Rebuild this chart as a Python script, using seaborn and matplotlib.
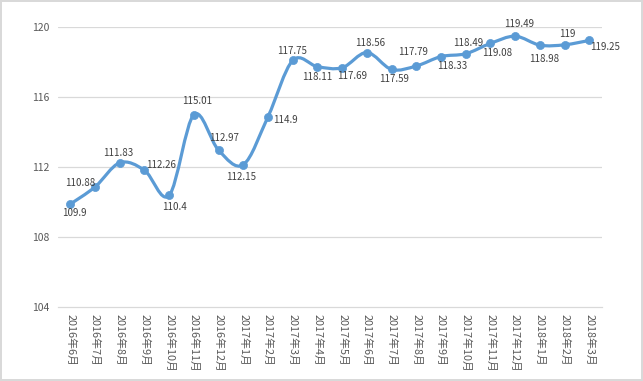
import numpy as np
import pandas as pd
import matplotlib
matplotlib.use("Agg")
import matplotlib.pyplot as plt
from matplotlib.path import Path
from matplotlib.patches import PathPatch
import seaborn as sns

# =====================================
# DATA
# =====================================

months = [
    "2016年6月", "2016年7月", "2016年8月", "2016年9月", "2016年10月",
    "2016年11月", "2016年12月", "2017年1月", "2017年2月", "2017年3月",
    "2017年4月", "2017年5月", "2017年6月", "2017年7月", "2017年8月",
    "2017年9月", "2017年10月", "2017年11月", "2017年12月", "2018年1月",
    "2018年2月", "2018年3月",
]

values = [
    109.9, 110.88, 112.26, 111.83, 110.4,
    115.01, 112.97, 112.15, 114.9, 118.11,
    117.75, 117.69, 118.56, 117.59, 117.79,
    118.33, 118.49, 119.08, 119.49, 118.98,
    119.0, 119.25,
]

# label texts as printed next to each point
point_labels = [
    "109.9", "110.88", "111.83", "112.26", "110.4",
    "115.01", "112.97", "112.15", "114.9", "117.75",
    "118.11", "117.69", "118.56", "117.59", "117.79",
    "118.33", "118.49", "119.08", "119.49", "118.98",
    "119", "119.25",
]

y_ticks = [104, 108, 112, 116, 120]

# label offsets from the point, in pixels (dx right, dy down)
label_offsets = [
    (4, 9), (-15, -4), (-2, -10), (17, -5), (5, 12),
    (3, -14), (5, -12), (-2, 12), (17, 3), (-1, -9),
    (0, 10), (10, 8), (3, -9), (2, 10), (-3, -14),
    (11, 9), (2, -11), (7, 10), (4, -12), (4, 14),
    (3, -11), (16, 7),
]

df = pd.DataFrame({"month": months, "value": values})

# =====================================
# STYLE
# =====================================

sns.set_style("white")
plt.rcParams["font.family"] = ["Noto Sans CJK SC", "DejaVu Sans"]

line_color = "#5B9BD5"
grid_color = "#D9D9D9"

fig = plt.figure(figsize=(6.43, 3.81), dpi=100,
                 edgecolor="#D9D9D9", linewidth=1.5)
ax = fig.add_axes([58 / 643, 1 - 307.3 / 381, (601.7 - 58) / 643, (307.3 - 27.3) / 381])

# =====================================
# SMOOTH LINE (bezier through the points)
# =====================================

xs = np.arange(len(values), dtype=float)
ys = np.array(values)
pts = np.column_stack([xs, ys])
verts = [pts[0]]
codes = [Path.MOVETO]
for i in range(len(pts) - 1):
    p0 = pts[i - 1] if i > 0 else pts[i]
    p1 = pts[i]
    p2 = pts[i + 1]
    p3 = pts[i + 2] if i + 2 < len(pts) else pts[i + 1]
    c1 = p1 + (p2 - p0) / 6
    c2 = p2 - (p3 - p1) / 6
    verts += [c1, c2, p2]
    codes += [Path.CURVE4] * 3

ax.add_patch(PathPatch(Path(verts, codes), facecolor="none",
                       edgecolor=line_color, linewidth=2.3,
                       capstyle="round", joinstyle="round", zorder=3))

sns.scatterplot(
    data=df, x="month", y="value", ax=ax,
    color=line_color, s=34, edgecolor=line_color, linewidth=0.5,
    zorder=4, legend=False,
)

# =====================================
# DATA LABELS
# =====================================

for i, (txt, (dx, dy)) in enumerate(zip(point_labels, label_offsets)):
    ax.annotate(
        txt, (i, values[i]),
        xytext=(dx * 0.72, -dy * 0.72), textcoords="offset points",
        ha="center", va="center", fontsize=7, color="#404040",
        zorder=5,
    )

# =====================================
# AXES
# =====================================

ax.set_xlim(-0.5, len(months) - 0.5)
ax.set_ylim(104, 120)
ax.set_yticks(y_ticks)
ax.set_yticklabels([str(t) for t in y_ticks])
ax.set_xlabel("")
ax.set_ylabel("")

for t in y_ticks[1:]:
    ax.axhline(t, color=grid_color, linewidth=0.9, zorder=1)

for side in ["top", "right", "left"]:
    ax.spines[side].set_visible(False)
ax.spines["bottom"].set_color(grid_color)
ax.spines["bottom"].set_linewidth(0.9)

ax.set_xticks(range(len(months)))
ax.set_xticklabels(months, rotation=270, fontsize=7.8, color="#595959",
                   ha="center", va="top")
ax.set_xticks(np.arange(-0.5, len(months)), minor=True)
ax.tick_params(axis="x", which="major", length=0, pad=5)
ax.tick_params(axis="x", which="minor", length=3.8, width=0.9,
               color=grid_color, direction="out")
ax.tick_params(axis="y", length=0, pad=6, labelsize=7.5, labelcolor="#595959")

plt.savefig("out.png", dpi=100, edgecolor=fig.get_edgecolor())
plt.close()
